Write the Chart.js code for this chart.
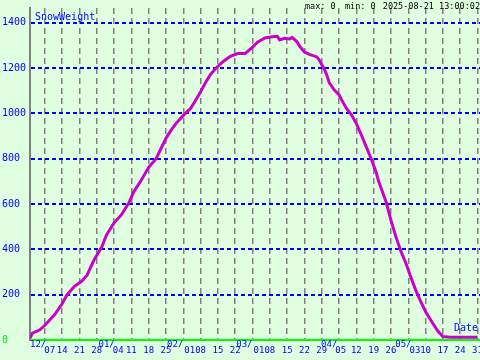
<!DOCTYPE html>
<html>
<head>
<meta charset="utf-8">
<script src="https://cdn.jsdelivr.net/npm/chart.js"></script>
<style>
  body { margin: 0; background: #e0ffe0; }
  canvas { display: block; }
</style>
</head>
<body>
<canvas id="snowChart" width="480" height="360"></canvas>
<script>
// readings (date -> snow weight)
var readDates = ['2024-12-01','2024-12-02','2024-12-05','2024-12-07','2024-12-11','2024-12-14','2024-12-16','2024-12-19',
  '2024-12-22','2024-12-24','2024-12-27','2024-12-30','2025-01-01','2025-01-04','2025-01-07','2025-01-10','2025-01-12',
  '2025-01-15','2025-01-18','2025-01-21','2025-01-23','2025-01-25','2025-01-27','2025-01-29','2025-02-01','2025-02-04',
  '2025-02-06','2025-02-08','2025-02-10','2025-02-12','2025-02-14','2025-02-17','2025-02-20','2025-02-23','2025-02-26',
  '2025-03-01','2025-03-03','2025-03-06','2025-03-09','2025-03-11','2025-03-12','2025-03-14','2025-03-16','2025-03-17',
  '2025-03-19','2025-03-20','2025-03-22','2025-03-24','2025-03-27','2025-03-28','2025-03-30','2025-03-31','2025-04-01',
  '2025-04-03','2025-04-05','2025-04-06','2025-04-08','2025-04-10','2025-04-12','2025-04-14','2025-04-16','2025-04-18',
  '2025-04-20','2025-04-21','2025-04-24','2025-04-26','2025-04-28','2025-04-30','2025-05-02','2025-05-04','2025-05-06',
  '2025-05-08','2025-05-10','2025-05-13','2025-05-15','2025-05-17','2025-05-20','2025-05-31'];
var snowWeight = [8, 30, 45, 65, 112, 160, 200, 237,
  260, 285, 355, 410, 465, 517, 553, 605, 655,
  705, 762, 800, 845, 890, 925, 955, 991, 1022,
  1058, 1095, 1136, 1172, 1197, 1228, 1252, 1264, 1264,
  1292, 1314, 1333, 1338, 1340, 1324, 1331, 1328, 1335,
  1316, 1297, 1271, 1260, 1249, 1235, 1195, 1170, 1136,
  1104, 1082, 1060, 1022, 994, 955, 905, 852, 800,
  740, 700, 610, 528, 455, 392, 340, 278, 220,
  170, 125, 72, 38, 15, 12, 12];

var startDate = '2024-12-01';
var endDate = '2025-06-01';

// weekly ticks (day offset from startDate) and their labels
var xTickDays = [6, 13, 20, 27, 34, 41, 48, 55, 62, 69, 76, 83, 90, 97, 104, 111, 118, 125, 132, 139, 146, 153, 160, 167, 174, 181];
var xTickLabels = ['07','14','21','28','04','11','18','25','01','08','15','22','01','08','15','22','29','05','12','19','26','03','10','17','24','31'];
var monthDays = [0, 31, 62, 90, 121, 151];
var monthLabels = ['12/','01/','02/','03/','04/','05/'];
var yTicks = [0, 200, 400, 600, 800, 1000, 1200, 1400];

var headerMax = 'max: 0';
var headerMin = 'min: 0';
var headerStamp = '2025-08-21 13:00:02';

function dayOf(s) {
  return (Date.parse(s) - Date.parse(startDate)) / 86400000;
}

var points = readDates.map(function (d, i) { return { x: dayOf(d), y: snowWeight[i] }; });

Chart.defaults.font.family = 'DejaVu Sans Mono';
Chart.defaults.font.size = 10;

var textPlugin = {
  id: 'snowText',
  afterDraw: function (chart) {
    var ctx = chart.ctx;
    var xs = chart.scales.x;
    ctx.save();
    ctx.font = '9px "DejaVu Sans Mono"';
    ctx.fillStyle = '#0000ff';
    ctx.textBaseline = 'alphabetic';
    ctx.textAlign = 'left';

    // month labels (upper row) and day labels (lower row)
    var monthRight = {};
    monthDays.forEach(function (d, i) {
      var px = xs.getPixelForValue(d);
      var w = ctx.measureText(monthLabels[i]).width;
      var left;
      if (xTickDays.indexOf(d) >= 0) left = px - w;
      else left = Math.max(xs.left, px - w / 2);
      ctx.fillText(monthLabels[i], left, 347);
      monthRight[i] = left + w;
    });
    xTickDays.forEach(function (d, i) {
      var px = xs.getPixelForValue(d);
      var w = ctx.measureText(xTickLabels[i]).width;
      var left = px - w / 2;
      monthDays.forEach(function (md, j) {
        if (md <= d && d - md < 7) {
          if (md === d) left = px + 1;
          else left = Math.max(left, monthRight[j] - 2);
        }
      });
      ctx.fillText(xTickLabels[i], left, 353);
    });

    ctx.font = '10px "DejaVu Sans Mono"';
    ctx.fillText('SnowWeight', 35, 20);
    ctx.textAlign = 'right';
    ctx.fillText('Date', 478, 331);

    ctx.font = '8.5px "DejaVu Sans Mono"';
    ctx.fillStyle = '#000000';
    ctx.fillText(headerStamp, 480, 9);
    ctx.textAlign = 'left';
    ctx.fillText(headerMax, 305, 9);
    ctx.fillText(headerMin, 345, 9);
    ctx.restore();
  }
};

new Chart(document.getElementById('snowChart'), {
  type: 'line',
  data: {
    datasets: [{
      label: 'SnowWeight',
      data: points,
      borderColor: '#cc00cc',
      borderWidth: 3,
      pointRadius: 0,
      tension: 0,
      fill: false
    }]
  },
  options: {
    responsive: false,
    animation: false,
    layout: { padding: { left: 2, top: 0, right: 0, bottom: 0 } },
    plugins: {
      legend: { display: false },
      tooltip: { enabled: false }
    },
    scales: {
      x: {
        type: 'linear',
        min: 0,
        max: dayOf(endDate),
        afterBuildTicks: function (scale) {
          scale.ticks = xTickDays.map(function (v) { return { value: v }; });
        },
        afterFit: function (scale) { scale.height = 20; },
        ticks: { display: false },
        grid: { color: '#808080', lineWidth: 1.5, drawTicks: false },
        border: { color: '#00ff00', width: 2, dash: [6, 4] }
      },
      y: {
        min: 0,
        max: 1465,
        afterBuildTicks: function (scale) {
          scale.ticks = yTicks.map(function (v) { return { value: v }; });
        },
        afterFit: function (scale) { scale.width = 28; },
        ticks: {
          crossAlign: 'far',
          padding: 2,
          font: { size: 10 },
          callback: function (v) { return String(v); },
          color: function (c) { return c.tick && c.tick.value === 0 ? '#00ee00' : '#0000ff'; }
        },
        grid: { color: '#0000ff', lineWidth: 2, drawTicks: false },
        border: { color: '#808080', width: 2, dash: [4, 3] }
      }
    }
  },
  plugins: [textPlugin]
});
</script>
</body>
</html>
